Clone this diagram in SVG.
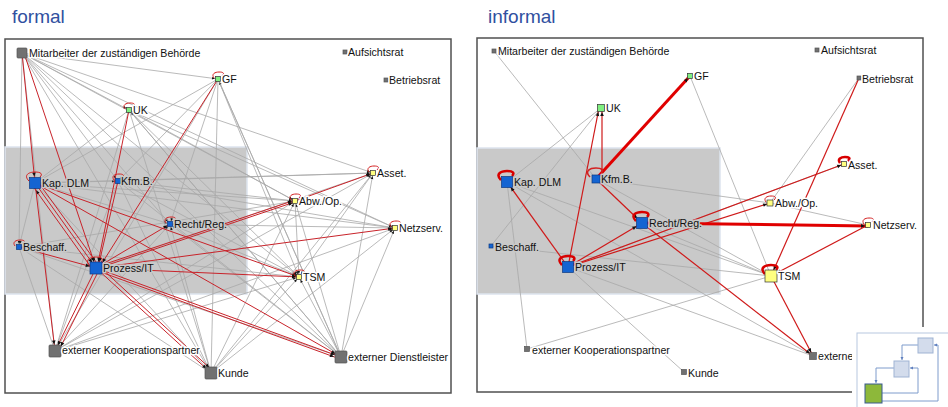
<svg xmlns="http://www.w3.org/2000/svg" xmlns:xlink="http://www.w3.org/1999/xlink" width="948" height="407" viewBox="0 0 948 407">
<defs>
<style>
.t{font-family:"Liberation Sans",Arial,sans-serif;font-size:10.6px;fill:#111;stroke:#fff;stroke-width:3;stroke-linejoin:round;paint-order:stroke}
.tz{stroke:#c9c9c9}
.title{font-family:"Liberation Sans",Arial,sans-serif;font-size:19px;fill:#3050a0}
.frame{fill:#fff;stroke:#505050;stroke-width:1.5}
.zone{fill:#c9c9c9;stroke:#dde4ee;stroke-width:1.5}
.g{stroke:#a8a8a8;stroke-width:0.8;fill:none}
.gm{marker-end:url(#b3)}
.r{stroke:#c8232a;stroke-width:1;fill:none}
.rr{stroke:#cf1a1a;stroke-width:1.2;fill:none}
.rt{stroke:#e00000;stroke-width:3;fill:none}
.m3{marker-end:url(#a3)}
.m4{marker-end:url(#a4)}
.m6{marker-end:url(#a6)}
.lp{fill:none;stroke:#d42020;stroke-width:1}
.lpt{fill:none;stroke:#d80000;stroke-width:2.5}
.nb{fill:#1464d2;stroke:#0d3a80;stroke-width:0.7}
.ny{fill:#ffff80;stroke:#333;stroke-width:0.7}
.ng{fill:#80f080;stroke:#333;stroke-width:0.7}
.nx{fill:#717171;stroke:#555;stroke-width:0.7}
.tb{fill:#d3dcec;stroke:#9fb3d3;stroke-width:1}
.tc{fill:none;stroke:#7f9ccc;stroke-width:1}
</style>
<marker id="a3" markerUnits="userSpaceOnUse" markerWidth="20" markerHeight="8" viewBox="-10 -4 20 8" refX="3" refY="0" orient="auto" overflow="visible"><path d="M-4,-1.8 L0,0 L-4,1.8 z" fill="#111"/></marker>
<marker id="a4" markerUnits="userSpaceOnUse" markerWidth="20" markerHeight="8" viewBox="-10 -4 20 8" refX="4" refY="0" orient="auto" overflow="visible"><path d="M-4,-1.8 L0,0 L-4,1.8 z" fill="#111"/></marker>
<marker id="a6" markerUnits="userSpaceOnUse" markerWidth="20" markerHeight="8" viewBox="-10 -4 20 8" refX="6.5" refY="0" orient="auto" overflow="visible"><path d="M-4,-1.8 L0,0 L-4,1.8 z" fill="#111"/></marker>
<marker id="b3" markerUnits="userSpaceOnUse" markerWidth="20" markerHeight="8" viewBox="-10 -4 20 8" refX="3" refY="0" orient="auto" overflow="visible"><path d="M-3,-1.3 L0,0 L-3,1.3 z" fill="#111"/></marker>
<marker id="c" markerUnits="userSpaceOnUse" markerWidth="6" markerHeight="6" viewBox="-4 -3 6 6" refX="0" refY="0" orient="auto" overflow="visible"><path d="M-3,-1.5 L0,0 L-3,1.5 z" fill="#5f7fbf"/></marker>
<path id="ls" d="M-4,-1 C-7,-5 -3,-7 1,-7 C5,-7 7,-6 4,-3"/>
<path id="lb" d="M-6,-2 C-12,-8 -6,-11 0,-11 C6,-11 8,-9 5,-6"/>
</defs>

<rect x="0" y="0" width="948" height="407" fill="#fff"/>
<text class="title" x="12" y="23">formal</text>
<text class="title" x="488" y="23">informal</text>

<!-- panels -->
<rect class="frame" x="5" y="39" width="446" height="354"/>
<rect class="zone" x="5" y="147" width="242" height="147"/>
<rect class="frame" x="477" y="38" width="446" height="354"/>
<rect class="zone" x="477" y="148" width="243" height="146"/>

<g id="connectors">
<!-- left gray, with arrowheads -->
<g class="g gm">
<line x1="22" y1="53" x2="218" y2="79"/>
<line x1="22" y1="53" x2="129" y2="110"/>
<line x1="22" y1="53" x2="118" y2="181"/>
<line x1="22" y1="53" x2="170" y2="224"/>
<line x1="22" y1="53" x2="295" y2="201"/>
<line x1="22" y1="53" x2="373" y2="173"/>
<line x1="22" y1="53" x2="395" y2="228"/>
<line x1="22" y1="53" x2="299" y2="277"/>
<line x1="22" y1="53" x2="19" y2="247"/>
<line x1="218" y1="79" x2="118" y2="181"/>
<line x1="218" y1="79" x2="299" y2="277"/>
<line x1="218" y1="79" x2="170" y2="224"/>
<line x1="129" y1="110" x2="295" y2="201"/>
<line x1="129" y1="110" x2="395" y2="228"/>
<line x1="129" y1="110" x2="299" y2="277"/>
<line x1="35" y1="183" x2="118" y2="181"/>
<line x1="35" y1="183" x2="295" y2="201"/>
<line x1="35" y1="183" x2="373" y2="173"/>
<line x1="35" y1="183" x2="395" y2="228"/>
<line x1="35" y1="183" x2="19" y2="247"/>
<line x1="35" y1="183" x2="170" y2="224"/>
<line x1="118" y1="181" x2="373" y2="173"/>
<line x1="118" y1="181" x2="295" y2="201"/>
<line x1="118" y1="181" x2="395" y2="228"/>
<line x1="118" y1="181" x2="299" y2="277"/>
<line x1="55" y1="351" x2="373" y2="173"/>
<line x1="55" y1="351" x2="295" y2="201"/>
<line x1="55" y1="351" x2="395" y2="228"/>
<line x1="55" y1="351" x2="299" y2="277"/>
<line x1="55" y1="351" x2="170" y2="224"/>
<line x1="211" y1="373" x2="373" y2="173"/>
<line x1="211" y1="373" x2="295" y2="201"/>
<line x1="211" y1="373" x2="395" y2="228"/>
<line x1="211" y1="373" x2="299" y2="277"/>
<line x1="211" y1="373" x2="170" y2="224"/>
<line x1="341" y1="357" x2="373" y2="173"/>
<line x1="341" y1="357" x2="295" y2="201"/>
<line x1="341" y1="357" x2="395" y2="228"/>
<line x1="341" y1="357" x2="299" y2="277"/>
<line x1="341" y1="357" x2="170" y2="224"/>
<line x1="341" y1="357" x2="118" y2="181"/>
<line x1="341" y1="357" x2="129" y2="110"/>
<line x1="341" y1="357" x2="218" y2="79"/>
<line x1="170" y1="224" x2="299" y2="277"/>
<line x1="395" y1="228" x2="170" y2="224"/>
<line x1="295" y1="201" x2="299" y2="277"/>
<line x1="373" y1="173" x2="299" y2="277"/>
<line x1="19" y1="247" x2="299" y2="277"/>
<line x1="19" y1="247" x2="295" y2="201"/>
</g>
<!-- left gray, no arrowheads -->
<g class="g">
<line x1="22" y1="53" x2="341" y2="357"/>
<line x1="22" y1="53" x2="211" y2="373"/>
<line x1="22" y1="53" x2="55" y2="351"/>
<line x1="218" y1="79" x2="35" y2="183"/>
<line x1="218" y1="79" x2="211" y2="373"/>
<line x1="218" y1="79" x2="341" y2="357"/>
<line x1="218" y1="79" x2="55" y2="351"/>
<line x1="129" y1="110" x2="35" y2="183"/>
<line x1="129" y1="110" x2="341" y2="357"/>
<line x1="129" y1="110" x2="211" y2="373"/>
<line x1="129" y1="110" x2="55" y2="351"/>
<line x1="35" y1="183" x2="211" y2="373"/>
<line x1="118" y1="181" x2="55" y2="351"/>
<line x1="118" y1="181" x2="211" y2="373"/>
<line x1="19" y1="247" x2="55" y2="351"/>
<line x1="19" y1="247" x2="211" y2="373"/>
<line x1="19" y1="247" x2="341" y2="357"/>
<line x1="373" y1="173" x2="96" y2="268"/>
</g>
<!-- left red -->
<g class="r">
<line class="m6" x1="22" y1="53" x2="35" y2="183"/>
<line class="m6" x1="24" y1="53" x2="96" y2="268"/>
<line class="m6" x1="129" y1="110" x2="97" y2="268"/>
<line class="m6" x1="118" y1="181" x2="98" y2="268"/>
<line class="m6" x1="218" y1="79" x2="99" y2="268"/>
<line class="m6" x1="35" y1="183" x2="96" y2="268"/>
<line class="m6" x1="38" y1="182" x2="99" y2="266"/>
<line class="m6" x1="93" y1="270" x2="32" y2="185"/>
<line class="m6" x1="35" y1="183" x2="55" y2="351"/>
<line class="m6" x1="19" y1="247" x2="96" y2="268"/>
<line class="m3" x1="96" y1="268" x2="170" y2="224"/>
<line class="m3" x1="96.3" y1="268.8" x2="295.3" y2="201.8"/>
<line class="m3" x1="95.7" y1="267.2" x2="294.7" y2="200.2"/>
<line class="m3" x1="295" y1="201" x2="373" y2="173"/>
<line class="m3" x1="96" y1="268" x2="395" y2="228"/>
<line class="m3" x1="96" y1="268" x2="299" y2="277"/>
<line class="m6" x1="96" y1="268" x2="341" y2="357"/>
<line class="m6" x1="98" y1="271" x2="340" y2="359"/>
<line class="m6" x1="35" y1="183" x2="341" y2="357"/>
<line class="m3" x1="35" y1="183" x2="299" y2="277"/>
<line class="m6" x1="96" y1="268" x2="55" y2="351"/>
<line class="m6" x1="99" y1="270" x2="58" y2="352"/>
<line class="m6" x1="96" y1="268" x2="211" y2="373"/>
<line class="m6" x1="100" y1="267" x2="214" y2="372"/>
</g>

<!-- right gray -->
<g class="g">
<line x1="494" y1="51" x2="596" y2="179"/>
<line x1="601" y1="108" x2="507" y2="182"/>
<line x1="601" y1="108" x2="491" y2="246"/>
<line x1="596" y1="179" x2="770" y2="203"/>
<line x1="596" y1="179" x2="771" y2="276"/>
<line x1="507" y1="182" x2="813" y2="356"/>
<line x1="507" y1="182" x2="771" y2="276"/>
<line x1="491" y1="246" x2="771" y2="276"/>
<line x1="507" y1="182" x2="527" y2="349"/>
<line x1="527" y1="349" x2="771" y2="276"/>
<line x1="568" y1="267" x2="684" y2="372"/>
<line x1="568" y1="267" x2="813" y2="356"/>
<line x1="690" y1="76" x2="771" y2="276"/>
<line x1="859" y1="78" x2="770" y2="203"/>
<line x1="844" y1="164" x2="568" y2="267"/>
<line x1="770" y1="203" x2="868" y2="225"/>
<line x1="642" y1="223" x2="771" y2="276"/>
</g>
<!-- right red -->
<g class="rr">
<line class="m4" x1="602" y1="176" x2="602" y2="108"/>
<line class="m4" x1="568" y1="267" x2="599" y2="108"/>
<line class="m6" x1="596" y1="179" x2="642" y2="223"/>
<line class="m6" x1="568" y1="267" x2="507" y2="182"/>
<line class="m6" x1="568" y1="267" x2="642" y2="223"/>
<line class="m3" x1="568" y1="267" x2="844" y2="164"/>
<line class="m3" x1="568" y1="267" x2="770" y2="203"/>
<line class="m4" x1="642" y1="223" x2="813" y2="356"/>
<line class="m4" x1="771" y1="276" x2="813" y2="356"/>
<line class="m6" x1="868" y1="225" x2="771" y2="276"/>
<line class="m6" x1="859" y1="78" x2="771" y2="276"/>
</g>
<line class="rt m3" x1="596" y1="179" x2="690" y2="76"/>
<line class="rt m3" x1="642" y1="223" x2="868" y2="226"/>
</g>

<!-- left nodes -->
<g id="L-mitarbeiter"><rect class="nx" x="17" y="48" width="10" height="10" rx="1"/><text class="t" x="29" y="57">Mitarbeiter der zuständigen Behörde</text></g>
<g id="L-gf"><use href="#ls" class="lp" x="218" y="79"/><rect class="ng" x="215.5" y="76.5" width="5" height="5"/><text class="t" x="222" y="83">GF</text></g>
<g id="L-uk"><use href="#ls" class="lp" x="129" y="110"/><rect class="ng" x="126.5" y="107.5" width="5" height="5"/><text class="t" x="133" y="114">UK</text></g>
<g id="L-kapdlm"><use href="#lb" class="lp" x="35" y="183"/><rect class="nb" x="29.5" y="177.5" width="11" height="11"/><text class="t tz" x="42" y="187">Kap. DLM</text></g>
<g id="L-kfmb"><use href="#ls" class="lp" x="118" y="181"/><rect class="nb" x="115.5" y="178.5" width="5" height="5"/><text class="t tz" x="121" y="185">Kfm.B.</text></g>
<g id="L-asset"><use href="#ls" class="lp" x="373" y="173"/><rect class="ny" x="370.5" y="170.5" width="5" height="5"/><text class="t" x="377" y="177">Asset.</text></g>
<g id="L-abwop"><use href="#ls" class="lp" x="295" y="201"/><rect class="ny" x="292.5" y="198.5" width="5" height="5"/><text class="t" x="299" y="205">Abw./Op.</text></g>
<g id="L-netzserv"><use href="#ls" class="lp" x="395" y="228"/><rect class="ny" x="392.5" y="225.5" width="5" height="5"/><text class="t" x="399" y="232">Netzserv.</text></g>
<g id="L-rechtreg"><use href="#ls" class="lp" x="170" y="224"/><rect class="nb" x="167.5" y="221.5" width="5" height="5"/><text class="t tz" x="174" y="228">Recht/Reg.</text></g>
<g id="L-beschaff"><use href="#ls" class="lp" x="19" y="247"/><rect class="nb" x="16.5" y="244.5" width="5" height="5"/><text class="t tz" x="23" y="251">Beschaff.</text></g>
<g id="L-prozessit"><use href="#lb" class="lp" x="96" y="268"/><rect class="nb" x="90" y="262" width="12" height="12"/><text class="t tz" x="103" y="272">Prozess/IT</text></g>
<g id="L-tsm"><use href="#ls" class="lp" x="299" y="277"/><rect class="ny" x="296.5" y="274.5" width="5" height="5"/><text class="t" x="303" y="281">TSM</text></g>
<g id="L-extkoop"><rect class="nx" x="49" y="345" width="12" height="12" rx="1"/><text class="t" x="62" y="354">externer Kooperationspartner</text></g>
<g id="L-kunde"><rect class="nx" x="205" y="367" width="12" height="12" rx="1"/><text class="t" x="218" y="377">Kunde</text></g>
<g id="L-extdienst"><rect class="nx" x="335" y="351" width="12" height="12" rx="1"/><text class="t" x="348" y="361">externer Dienstleister</text></g>
<g id="L-aufsichtsrat"><rect class="nx" x="343" y="50" width="4" height="4"/><text class="t" x="348" y="56">Aufsichtsrat</text></g>
<g id="L-betriebsrat"><rect class="nx" x="384" y="78" width="4" height="4"/><text class="t" x="389" y="84">Betriebsrat</text></g>

<!-- right nodes -->
<g id="R-mitarbeiter"><rect class="nx" x="492" y="49" width="4" height="4"/><text class="t" x="498" y="55">Mitarbeiter der zuständigen Behörde</text></g>
<g id="R-gf"><rect class="ng" x="687.5" y="73.5" width="5" height="5"/><text class="t" x="694" y="80">GF</text></g>
<g id="R-uk"><rect class="ng" x="597.5" y="104.5" width="7" height="7"/><text class="t" x="606" y="112">UK</text></g>
<g id="R-kapdlm"><use href="#lb" class="lpt" x="507" y="182"/><rect class="nb" x="501.5" y="176.5" width="11" height="11"/><text class="t tz" x="514" y="186">Kap. DLM</text></g>
<g id="R-kfmb"><use href="#lb" class="lp" x="596" y="179" style="stroke-width:1.6"/><rect class="nb" x="592" y="175" width="8" height="8"/><text class="t tz" x="601" y="183">Kfm.B.</text></g>
<g id="R-aufsichtsrat"><rect class="nx" x="815" y="48" width="4" height="4"/><text class="t" x="821" y="54">Aufsichtsrat</text></g>
<g id="R-betriebsrat"><rect class="nx" x="857" y="76" width="4" height="4"/><text class="t" x="862" y="83">Betriebsrat</text></g>
<g id="R-asset"><use href="#ls" class="lpt" x="844" y="164"/><rect class="ny" x="841.5" y="161.5" width="5" height="5"/><text class="t" x="848" y="169">Asset.</text></g>
<g id="R-abwop"><use href="#ls" class="lp" x="770" y="203"/><rect class="ny" x="767" y="200" width="6" height="6"/><text class="t" x="775" y="207">Abw./Op.</text></g>
<g id="R-netzserv"><use href="#ls" class="lp" x="868" y="225"/><rect class="ny" x="865.5" y="222.5" width="5" height="5"/><text class="t" x="873" y="229">Netzserv.</text></g>
<g id="R-tsm"><use href="#lb" class="lpt" x="771" y="276"/><rect class="ny" x="765" y="270" width="12" height="12"/><text class="t" x="778" y="280">TSM</text></g>
<g id="R-rechtreg"><use href="#lb" class="lpt" x="642" y="223"/><rect class="nb" x="636.5" y="217.5" width="11" height="11"/><text class="t tz" x="649" y="227">Recht/Reg.</text></g>
<g id="R-beschaff"><rect class="nb" x="489" y="244" width="4" height="4"/><text class="t tz" x="495" y="251">Beschaff.</text></g>
<g id="R-prozessit"><use href="#lb" class="lpt" x="568" y="267"/><rect class="nb" x="562.5" y="261.5" width="11" height="11"/><text class="t tz" x="575" y="271">Prozess/IT</text></g>
<g id="R-extkoop"><rect class="nx" x="524.5" y="346.5" width="5" height="5"/><text class="t" x="532" y="354">externer Kooperationspartner</text></g>
<g id="R-kunde"><rect class="nx" x="681.5" y="369.5" width="5" height="5"/><text class="t" x="688" y="377">Kunde</text></g>
<g id="R-extdienst"><rect class="nx" x="809.5" y="352.5" width="7" height="7"/><text class="t" x="818" y="360">externe</text></g>

<!-- thumbnail -->
<g id="thumbnail">
<rect x="852" y="327" width="96" height="80" fill="#fff"/>
<rect x="857" y="333" width="96" height="80" fill="#fff" stroke="#b8c8e0" stroke-width="1"/>
<path class="tc" d="M918,345 H902 V360" marker-end="url(#c)"/>
<path class="tc" d="M894,368 H876 V383" marker-end="url(#c)"/>
<path class="tc" d="M882,393 H918 V368 H910" marker-end="url(#c)"/>
<path class="tc" d="M882,401 H938 V345 H934" marker-end="url(#c)"/>
<rect class="tb" x="918" y="338" width="15" height="15"/>
<rect class="tb" x="894" y="361" width="15" height="16"/>
<rect x="865" y="384" width="17" height="19" fill="#8db83a" stroke="#3a5a90" stroke-width="1"/>
</g>
</svg>
